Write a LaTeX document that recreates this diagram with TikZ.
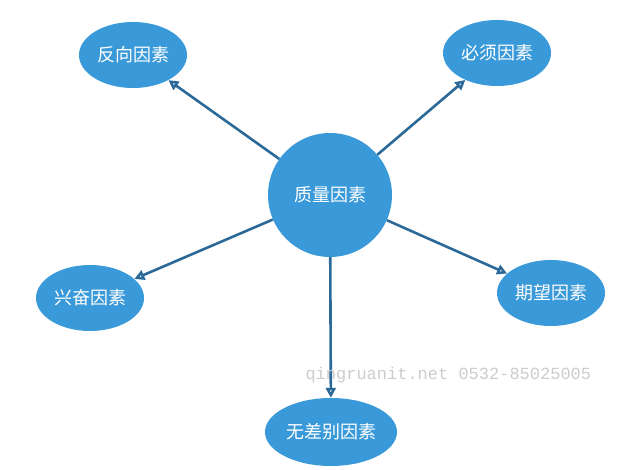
\documentclass[tikz,border=0pt]{standalone}
\usepackage{fontspec}
\setmainfont{Noto Sans CJK SC}
\newfontfamily\wmfont{Liberation Mono}
\usetikzlibrary{arrows.meta,shapes.geometric}
\definecolor{qblue}{HTML}{3A9AD9}
\definecolor{qline}{HTML}{2B6A98}
\tikzset{
  factor/.style={ellipse, fill=qblue, text=white, minimum width=108pt,
    minimum height=66pt, inner sep=0pt, font=\fontsize{18}{21}\selectfont},
  link/.style={draw=qline, line width=2.6pt, -{Triangle[open,length=10pt,width=10pt]}},
}
\begin{document}
\begin{tikzpicture}[x=1pt,y=-1pt]
  \useasboundingbox (0,0) rectangle (624,470);
  \node[circle, fill=qblue, text=white, minimum size=124pt, inner sep=0pt,
    font=\fontsize{18}{21}\selectfont] (core) at (330,195) {质量因素};
  \node[factor] (rev) at (133,55) {反向因素};
  \node[factor] (must) at (497,53) {必须因素};
  \node[factor] (exc) at (90,298) {兴奋因素};
  \node[factor] (exp) at (551,293) {期望因素};
  \node[factor, minimum width=132pt, minimum height=68pt] (ind) at (331,432) {无差别因素};

  \draw[link] (core) -- (rev);
  \draw[link] (core) -- (must);
  \draw[link] (core) -- (exc);
  \draw[link] (core) -- (exp);
  \draw[link] (core) -- (ind);

  \node[text=black!20, font=\wmfont\fontsize{17}{19}\selectfont, anchor=west] (mark) at (302,375) {qingruanit.net 0532-85025005};
\end{tikzpicture}
\end{document}
